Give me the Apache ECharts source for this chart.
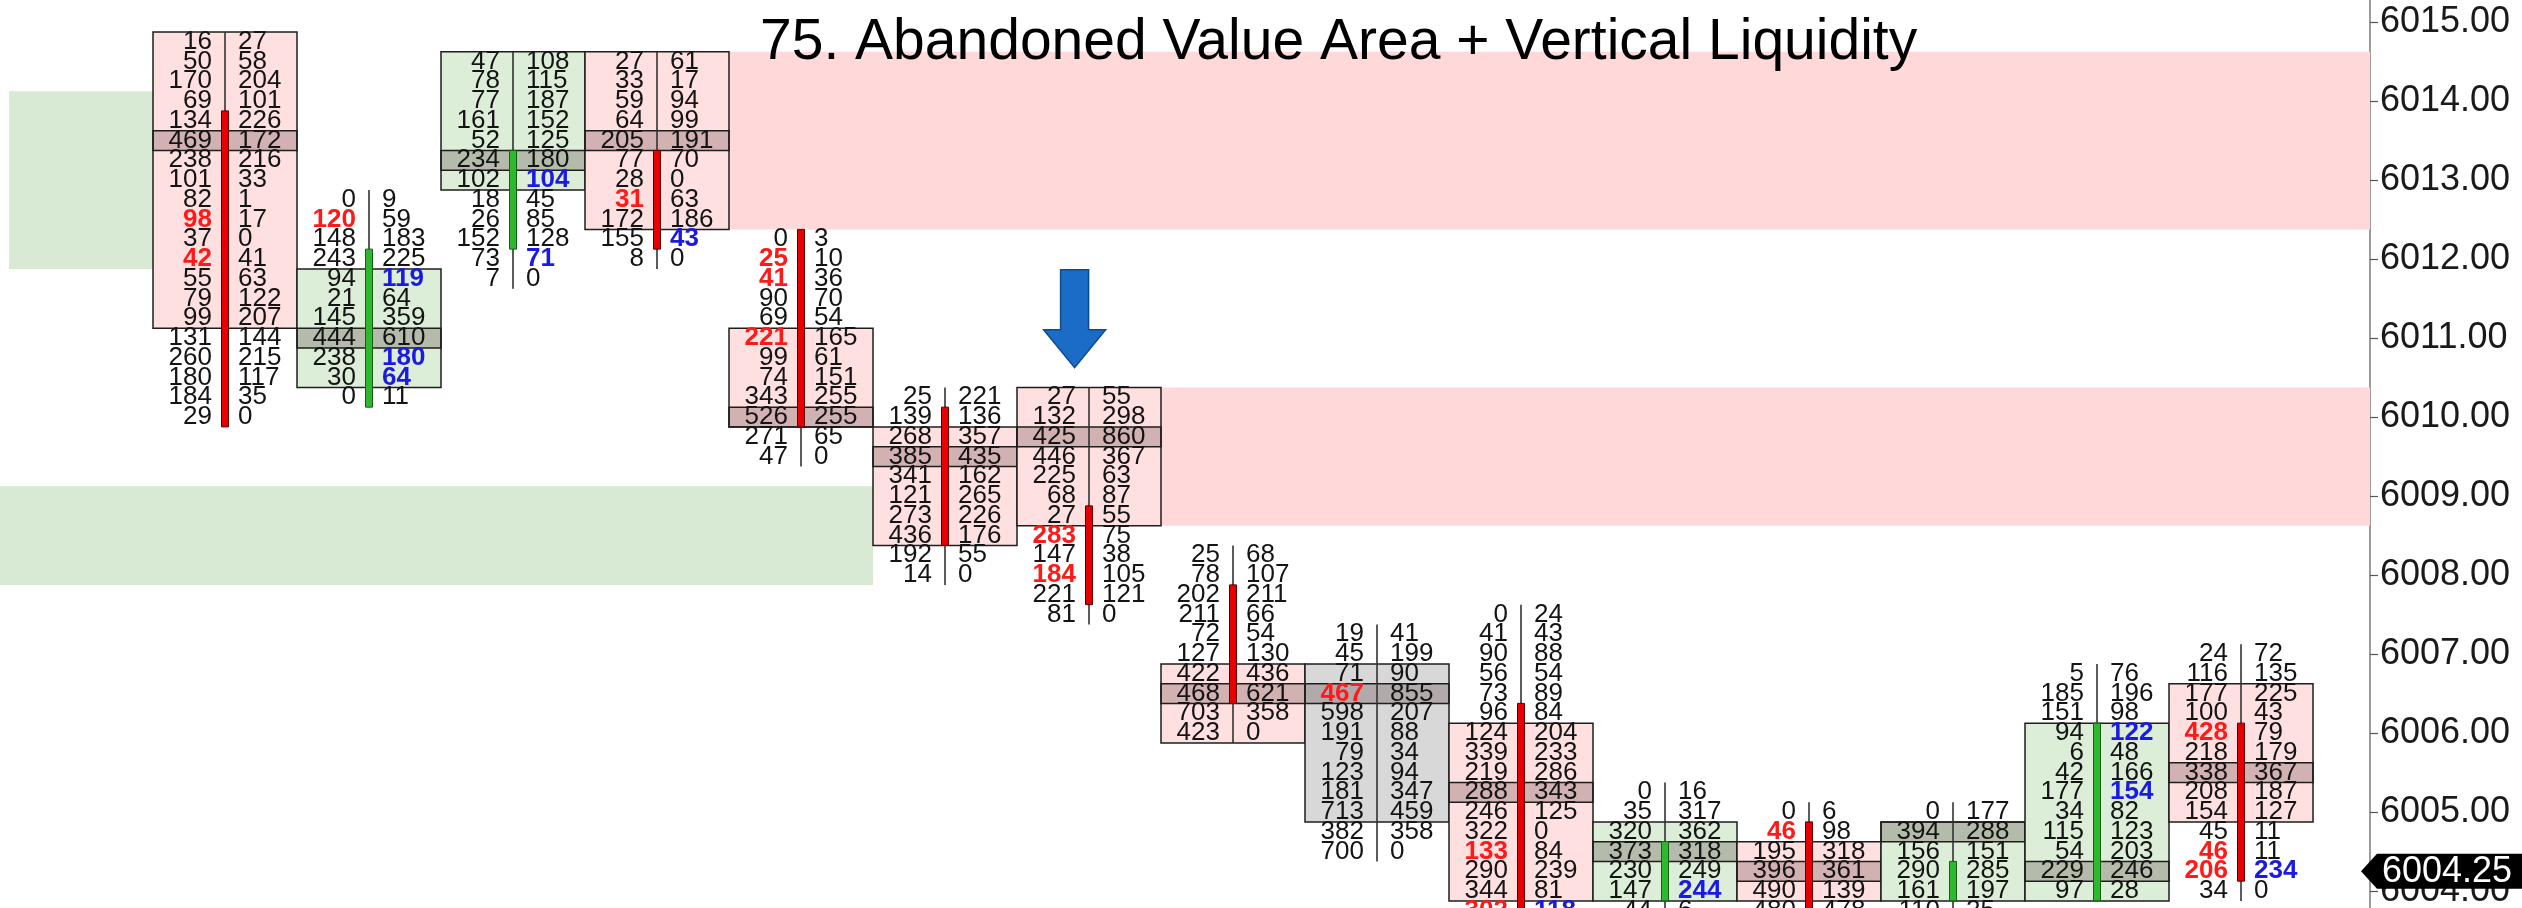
<!DOCTYPE html>
<html>
<head>
<meta charset="utf-8">
<script src="https://cdn.jsdelivr.net/npm/echarts@6/dist/echarts.min.js"></script>
<style>
html,body{margin:0;padding:0;background:#ffffff;}
#chart{width:2522px;height:908px;}
</style>
</head>
<body>
<div id="chart"></div>
<script>
// ---------------- DATA ----------------
const chartTitle = '75. Abandoned Value Area + Vertical Liquidity';
const tickSize = 0.25;

// footprint columns (one per bar): top price row, then bid / ask volume per 0.25 row going down
const rowTop = [6014.75, 6012.75, 6014.5, 6014.5, 6012.25, 6010.25, 6010.25, 6008.25, 6007.25, 6007.5, 6005.25, 6005, 6005, 6006.75, 6007];
const bids = [
  [16,50,170,69,134,469,238,101,82,98,37,42,55,79,99,131,260,180,184,29],
  [0,120,148,243,94,21,145,444,238,30,0],
  [47,78,77,161,52,234,102,18,26,152,73,7],
  [27,33,59,64,205,77,28,31,172,155,8],
  [0,25,41,90,69,221,99,74,343,526,271,47],
  [25,139,268,385,341,121,273,436,192,14],
  [27,132,425,446,225,68,27,283,147,184,221,81],
  [25,78,202,211,72,127,422,468,703,423],
  [19,45,71,467,598,191,79,123,181,713,382,700],
  [0,41,90,56,73,96,124,339,219,288,246,322,133,290,344,302],
  [0,35,320,373,230,147,44],
  [0,46,195,396,490,480],
  [0,394,156,290,161,110],
  [5,185,151,94,6,42,177,34,115,54,229,97],
  [24,116,177,100,428,218,338,208,154,45,46,206,34]
];
const asks = [
  [27,58,204,101,226,172,216,33,1,17,0,41,63,122,207,144,215,117,35,0],
  [9,59,183,225,119,64,359,610,180,64,11],
  [108,115,187,152,125,180,104,45,85,128,71,0],
  [61,17,94,99,191,70,0,63,186,43,0],
  [3,10,36,70,54,165,61,151,255,255,65,0],
  [221,136,357,435,162,265,226,176,55,0],
  [55,298,860,367,63,87,55,75,38,105,121,0],
  [68,107,211,66,54,130,436,621,358,0],
  [41,199,90,855,207,88,34,94,347,459,358,0],
  [24,43,88,54,89,84,204,233,286,343,125,0,84,239,81,118],
  [16,317,362,318,249,244,6],
  [6,98,318,361,139,478],
  [177,288,151,285,197,25],
  [76,196,98,122,48,166,154,82,123,203,246,28],
  [72,135,225,43,79,179,367,187,127,11,11,234,0]
];
// imbalance highlights (price of the row)
const redBids = [[6012.5,6012],[6012.5],[],[6012.75],[6012,6011.75,6011],[],[6008.5,6008],[],[6006.5],[6004.5,6003.75],[],[6004.75],[],[],[6006,6004.5,6004.25]];
const blueAsks = [[],[6011.75,6010.75,6010.5],[6013,6012],[6012.25],[],[],[],[],[],[6003.75],[6004],[],[],[6006,6005.25],[6004.25]];

// OHLC per bar
const opens  = [6013.75, 6010.25, 6012.25, 6013.25, 6012.25, 6010,    6008.75, 6007.75, 6006.5, 6006.25, 6004,    6004.75, 6004,    6004,    6006];
const closes = [6010,    6012,    6013.25, 6012.25, 6010,    6008.5,  6007.75, 6006.5,  6006.5, 6003.75, 6004.5,  6003.75, 6004.25, 6006,    6004.25];
const highs  = [6014.75, 6012.75, 6014.5,  6014.5,  6012.25, 6010.25, 6010.25, 6008.25, 6007.25, 6007.5, 6005.25, 6005,    6005,    6006.75, 6007];
const lows   = [6010,    6010.25, 6011.75, 6012,    6009.5,  6008,    6007.5,  6006,    6004.5, 6003.5,  6003.5,  6003.5,  6003.75, 6004,    6004];

// value area (box) and point of control per bar
const vaHigh = [6014.75, 6011.75, 6014.5, 6014.5, 6011, 6009.75, 6010.25, 6006.75, 6006.75, 6006, 6004.75, 6004.5, 6004.75, 6006, 6006.5];
const vaLow  = [6011.25, 6010.5,  6013,   6012.5, 6010, 6008.5,  6008.75, 6006,    6005,    6004, 6004,    6004,   6004,    6004, 6005];
const pocs   = [6013.5,  6011,    6013.25, 6013.5, 6010, 6009.5, 6009.75, 6006.5,  6006.5,  6005.25, 6004.5, 6004.25, 6004.75, 6004.25, 6005.5];

// abandoned value areas (row prices), extended in bar units; null = plot edge
const bandFrom   = [-1.5, 3.5, 6.5, null];
const bandTo     = [-0.5, null, null, 4.5];
const bandTop    = [6014, 6014.5, 6010.25, 6009];
const bandBottom = [6012, 6012.5, 6008.75, 6008];
const bandSide   = ['buy', 'sell', 'sell', 'buy'];

const lastPrice = 6004.25;
const arrowAt = [5.9, 6010.625];

const yMin = 6003, yMax = 6016, yStep = 1;

// ---------------- CHART ----------------
const FONT = '"Liberation Sans", Arial, Helvetica, sans-serif';
const H = tickSize / 2;
const colIdx = rowTop.map((_, i) => i);

function renderBand(params, api) {
  const i = params.dataIndex;
  const cs = params.coordSys;
  const x0 = bandFrom[i] == null ? cs.x : api.coord([bandFrom[i], bandTop[i]])[0];
  const x1 = bandTo[i] == null ? cs.x + cs.width : api.coord([bandTo[i], bandTop[i]])[0];
  const y0 = api.coord([0, bandTop[i] + H])[1];
  const y1 = api.coord([0, bandBottom[i] - H])[1];
  return {
    type: 'rect',
    shape: { x: x0, y: y0, width: x1 - x0, height: y1 - y0 },
    style: { fill: bandSide[i] === 'buy' ? '#D9EAD4' : '#FFD8D9' }
  };
}

function renderColumn(params, api) {
  const i = params.dataIndex;
  const cx = api.coord([i, pocs[i]])[0];
  const halfW = api.size([1, 0])[0] / 2;
  const Y = p => api.coord([i, p])[1];
  const up = closes[i] > opens[i], down = closes[i] < opens[i];
  const boxFill = up ? '#DCEDD8' : (down ? '#FFE0E0' : '#D8D8D8');
  const children = [];
  const by0 = Y(vaHigh[i] + H), by1 = Y(vaLow[i] - H);
  children.push({ type: 'rect', shape: { x: cx - halfW, y: by0, width: 2 * halfW, height: by1 - by0 },
    style: { fill: boxFill, stroke: '#1e1e1e', lineWidth: 1.5 } });
  const py0 = Y(pocs[i] + H), py1 = Y(pocs[i] - H);
  children.push({ type: 'rect', shape: { x: cx - halfW, y: py0, width: 2 * halfW, height: py1 - py0 },
    style: { fill: 'rgba(45,10,10,0.22)', stroke: '#1e1e1e', lineWidth: 1.5 } });
  children.push({ type: 'line', shape: { x1: cx, y1: Y(highs[i] + H), x2: cx, y2: Y(lows[i] - H) },
    style: { stroke: '#333', lineWidth: 1.6 } });
  if (up || down) {
    const t = Y(Math.max(opens[i], closes[i]) + H), b = Y(Math.min(opens[i], closes[i]) - H);
    children.push({ type: 'rect', shape: { x: cx - 3.5, y: t, width: 7, height: b - t },
      style: { fill: up ? '#2FB82F' : '#E60000', stroke: up ? '#175E17' : '#5A0000', lineWidth: 1 } });
  }
  bids[i].forEach((v, k) => {
    const p = rowTop[i] - k * tickSize;
    const hot = redBids[i].includes(p);
    children.push({ type: 'text', style: { text: String(v), x: cx - 13, y: Y(p),
      align: 'right', verticalAlign: 'middle', fill: hot ? '#FF1A1A' : '#141414',
      font: (hot ? 'bold ' : '') + '26px ' + FONT } });
  });
  asks[i].forEach((v, k) => {
    const p = rowTop[i] - k * tickSize;
    const hot = blueAsks[i].includes(p);
    children.push({ type: 'text', style: { text: String(v), x: cx + 13, y: Y(p),
      align: 'left', verticalAlign: 'middle', fill: hot ? '#1A1AE0' : '#141414',
      font: (hot ? 'bold ' : '') + '26px ' + FONT } });
  });
  return { type: 'group', children };
}

function renderArrow(params, api) {
  const pt = api.coord([api.value(0), api.value(1)]);
  const tx = pt[0], ty = pt[1];
  return {
    type: 'polygon',
    shape: { points: [[tx - 14, ty - 98], [tx + 14, ty - 98], [tx + 14, ty - 38], [tx + 31, ty - 38],
      [tx, ty], [tx - 31, ty - 38], [tx - 14, ty - 38]] },
    style: { fill: '#1A6CC6', stroke: '#0D4A8F', lineWidth: 1.5 }
  };
}

function renderMarker(params, api) {
  const cs = params.coordSys;
  const ax = cs.x + cs.width;
  const yy = api.coord([0, api.value(1)])[1];
  const h = 17.5;
  const right = api.getWidth();
  return {
    type: 'group',
    children: [
      { type: 'polygon', shape: { points: [[ax - 9, yy], [ax + 7, yy - h], [right, yy - h], [right, yy + h], [ax + 7, yy + h]] },
        style: { fill: '#000' } },
      { type: 'text', style: { text: api.value(1).toFixed(2), x: ax + 12, y: yy + 1, fill: '#fff',
        verticalAlign: 'middle', align: 'left', font: '36px ' + FONT } }
    ]
  };
}

const chart = echarts.init(document.getElementById('chart'), null, { renderer: 'canvas' });
chart.setOption({
  animation: false,
  backgroundColor: '#ffffff',
  title: {
    text: chartTitle, left: 755, top: 10,
    textStyle: { fontFamily: FONT, fontSize: 57, fontWeight: 'normal', color: '#000' }
  },
  grid: { left: 0, right: 152, top: -57, bottom: -62, containLabel: false, outerBoundsMode: 'none' },
  xAxis: { type: 'value', min: -1.5625, max: 14.8958, show: false },
  yAxis: {
    type: 'value', position: 'right', min: yMin, max: yMax, interval: yStep,
    axisLine: { show: true, onZero: false, lineStyle: { color: '#7a7a7a', width: 1.5 } },
    axisTick: { show: true, length: 8, lineStyle: { color: '#555', width: 1.2 } },
    splitLine: { show: false },
    axisLabel: { formatter: v => v.toFixed(2), fontSize: 36, fontFamily: FONT, color: '#1a1a1a', margin: 10,
      padding: [12, 0, 0, 0] }
  },
  series: [
    { type: 'custom', name: 'bands', z: 1, renderItem: renderBand,
      data: bandTop.map((t, i) => [i, t]), encode: { x: 0, y: 1 }, silent: true },
    { type: 'custom', name: 'footprint', z: 2, renderItem: renderColumn,
      data: colIdx.map(i => [i, closes[i]]), encode: { x: 0, y: 1 }, silent: true },
    { type: 'custom', name: 'arrow', z: 3, renderItem: renderArrow,
      data: [arrowAt], encode: { x: 0, y: 1 }, silent: true },
    { type: 'custom', name: 'last', z: 10, renderItem: renderMarker, clip: false,
      data: [[0, lastPrice]], encode: { x: 0, y: 1 }, silent: true }
  ]
});
</script>
</body>
</html>
